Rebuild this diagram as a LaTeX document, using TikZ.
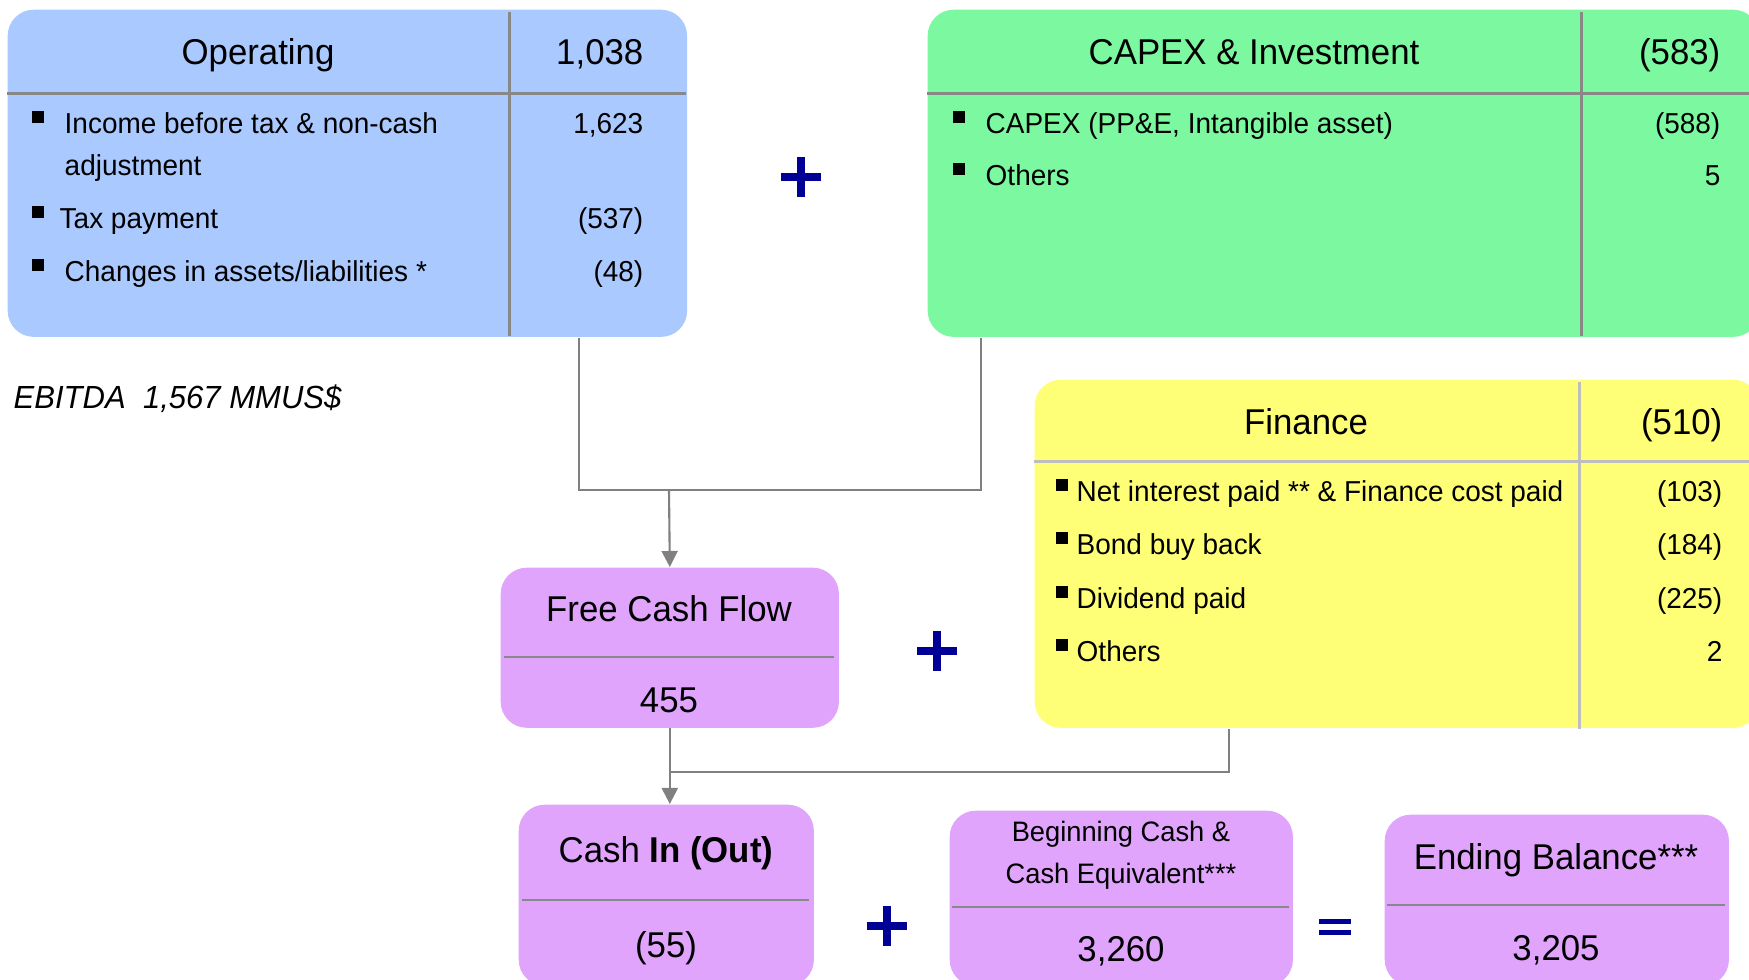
\documentclass[tikz,border=0pt]{standalone}
\usepackage{fontspec}
\setmainfont[FakeStretch=0.97]{Liberation Sans}
\usetikzlibrary{arrows.meta}

\definecolor{opblue}{RGB}{170,201,255}
\definecolor{capgreen}{RGB}{124,248,160}
\definecolor{finyellow}{RGB}{255,255,119}
\definecolor{sumpurple}{RGB}{224,164,252}
\definecolor{divgray}{RGB}{136,136,136}
\definecolor{divlight}{RGB}{190,190,190}
\definecolor{conngray}{RGB}{128,128,128}
\definecolor{signblue}{RGB}{0,0,150}

\tikzset{
    panel/.style={rectangle, rounded corners=0.26cm, inner sep=0pt, anchor=north west},
    divider/.style={draw=divgray, line width=0.85pt},
    conn/.style={draw=conngray, line width=0.6pt},
    flow/.style={conn, -{Triangle[length=1.6mm, width=1.6mm]}, fill=conngray},
    cellhead/.style={font=\fontsize{10.2}{12}\selectfont, inner sep=0pt, anchor=base},
    cellval/.style={cellhead, anchor=base east},
    entry/.style={font=\fontsize{8.2}{10}\selectfont, inner sep=0pt, anchor=base west},
    entryval/.style={entry, anchor=base east},
    bullet/.style={rectangle, fill=black, minimum size=0.12cm, inner sep=0pt},
    plussign/.style={minimum size=0.4cm, inner sep=0pt,
        path picture={\draw[signblue, line width=2.3pt]
            (path picture bounding box.west) -- (path picture bounding box.east)
            (path picture bounding box.north) -- (path picture bounding box.south);}},
    equalsign/.style={minimum width=0.32cm, minimum height=0.17cm, inner sep=0pt,
        path picture={\draw[signblue, line width=1.7pt]
            ([yshift=-0.03cm]path picture bounding box.north west) -- ([yshift=-0.03cm]path picture bounding box.north east)
            ([yshift=0.03cm]path picture bounding box.south west) -- ([yshift=0.03cm]path picture bounding box.south east);}},
}

\begin{document}
\begin{tikzpicture}[x=0.01cm, y=-0.01cm]
    \clip (0,0) rectangle (1749,980);

    % panels
    \node[panel, fill=opblue, minimum width=6.79cm, minimum height=3.27cm] (oper) at (7,9) {};
    \node[panel, fill=capgreen, minimum width=8.31cm, minimum height=3.27cm] (capex) at (927,9) {};
    \node[panel, fill=finyellow, minimum width=7.24cm, minimum height=3.48cm] (fin) at (1034,379) {};
    \node[panel, fill=sumpurple, minimum width=3.38cm, minimum height=1.60cm] (fcf) at (500,567) {};
    \node[panel, fill=sumpurple, minimum width=2.95cm, minimum height=1.81cm] (cashio) at (518,804) {};
    \node[panel, fill=sumpurple, minimum width=3.43cm, minimum height=1.75cm] (begin) at (949,810) {};
    \node[panel, fill=sumpurple, minimum width=3.44cm, minimum height=1.71cm] (ending) at (1384,814) {};

    % table rules
    \draw[divider] (7,94) -- (686,94);
    \draw[divider] (509,12) -- (509,336);
    \draw[divider] (927,94) -- (1749,94);
    \draw[divider] (1581,12) -- (1581,336);
    \draw[divider, draw=divlight] (1034,462) -- (1749,462);
    \draw[divider, draw=divlight] (1579,382) -- (1579,729);
    \draw[divider] (504,657) -- (834,657);
    \draw[divider] (522,900) -- (809,900);
    \draw[divider] (952,907) -- (1289,907);
    \draw[divider] (1387,905) -- (1725,905);

    % headers
    \node[cellhead] (operhead) at (258,65) {Operating};
    \node[cellval] (operval) at (644,65) {1,038};
    \node[cellhead] (capexhead) at (1254,65) {CAPEX \& Investment};
    \node[cellval] (capexval) at (1721,65) {(583)};
    \node[cellhead] (finhead) at (1306,435) {Finance};
    \node[cellval] (finval) at (1723,435) {(510)};

    % bullets
    \foreach \bx/\by in {38/117, 38/212, 38/265, 959/117, 959/169,
                         1062/485, 1062/538, 1062/592, 1062/645}
    \node[bullet] at (\bx,\by) {};

    \node[entry] at (64,134) {Income before tax \& non-cash};
    \node[entry] at (64,176) {adjustment};
    \node[entry] at (59,229) {Tax payment};
    \node[entry] at (64,282) {Changes in assets/liabilities *};
    \node[entryval] at (644,134) {1,623};
    \node[entryval] at (644,229) {(537)};
    \node[entryval] at (644,282) {(48)};

    \node[entry] at (985,134) {CAPEX (PP\&E, Intangible asset)};
    \node[entry] at (985,186) {Others};
    \node[entryval] at (1721,134) {(588)};
    \node[entryval] at (1721,186) {5};

    \node[entry] at (1076,502) {Net interest paid ** \& Finance cost paid};
    \node[entry] at (1076,555) {Bond buy back};
    \node[entry] at (1076,609) {Dividend paid};
    \node[entry] at (1076,662) {Others};
    \node[entryval] at (1723,502) {(103)};
    \node[entryval] at (1723,555) {(184)};
    \node[entryval] at (1723,609) {(225)};
    \node[entryval] at (1723,662) {2};

    \node[anchor=base west, inner sep=0pt, font=\fontsize{9.1}{11}\selectfont\itshape] (ebitda)
        at (13,409) {EBITDA\ \ 1,567 MMUS\$};

    % summary boxes
    \node[cellhead] at (669,622) {Free Cash Flow};
    \node[cellhead] at (669,712) {455};
    \node[cellhead] at (666,862) {Cash \textbf{In (Out)}};
    \node[cellhead] at (666,957) {(55)};
    \node[inner sep=0pt, align=center, font=\fontsize{8}{12}\selectfont] at (1121,855)
        {Beginning Cash \&\\Cash Equivalent***};
    \node[cellhead] at (1121,961) {3,260};
    \node[cellhead] at (1556,869) {Ending Balance***};
    \node[cellhead] at (1556,960) {3,205};

    % operators
    \node[plussign] (plusa) at (801,177) {};
    \node[plussign] (plusb) at (937,651) {};
    \node[plussign] (plusc) at (887,926) {};
    \node[equalsign] (equals) at (1335,927) {};

    % connectors
    \coordinate (upjoin) at (669,490);
    \coordinate (lowjoin) at (669,772);
    \draw[conn] ([xshift=2.315cm]oper.south) |- (upjoin) -| ([xshift=-3.625cm]capex.south);
    \draw[flow] (upjoin) -- (fcf.north);
    \draw[flow] (fcf.south) -- (fcf.south |- cashio.north);
    \draw[conn] ([xshift=-1.68cm]fin.south) |- (lowjoin);
\end{tikzpicture}
\end{document}
